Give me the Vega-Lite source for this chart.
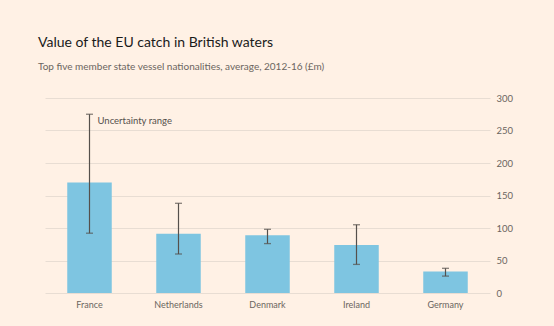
{
  "$schema": "https://vega.github.io/schema/vega-lite/v6.json",
  "autosize": {"type": "none"},
  "padding": {"left": 45, "top": 98, "right": 64, "bottom": 33},
  "width": 445,
  "height": 195,
  "background": "#FFF1E5",
  "title": {
    "text": "Value of the EU catch in British waters",
    "subtitle": "Top five member state vessel nationalities, average, 2012-16 (£m)",
    "anchor": "start",
    "frame": "group",
    "dx": -7,
    "offset": 21,
    "font": "Lato",
    "fontSize": 14,
    "fontWeight": "normal",
    "color": "#1a1a1a",
    "subtitleFont": "Lato",
    "subtitleFontSize": 10,
    "subtitleColor": "#6b6560",
    "subtitlePadding": 12
  },
  "data": {
    "values": [
      {"country": "France", "value": 170, "low": 92, "high": 275},
      {"country": "Netherlands", "value": 91, "low": 60, "high": 138},
      {"country": "Denmark", "value": 89, "low": 76, "high": 98},
      {"country": "Ireland", "value": 74, "low": 44, "high": 105},
      {"country": "Germany", "value": 33, "low": 26, "high": 38}
    ]
  },
  "encoding": {
    "x": {
      "field": "country",
      "type": "nominal",
      "sort": null,
      "scale": {"paddingInner": 0.5, "paddingOuter": 0.25},
      "axis": {
        "title": null,
        "labelAngle": 0,
        "ticks": false,
        "domain": false,
        "labelPadding": 7,
        "labelFont": "Lato",
        "labelFontSize": 9,
        "labelColor": "#6b6560"
      }
    }
  },
  "layer": [
    {
      "mark": {"type": "bar", "color": "#7EC5E1"},
      "encoding": {
        "y": {
          "field": "value",
          "type": "quantitative",
          "scale": {"domain": [0, 300], "nice": false},
          "axis": {"orient": "right", "title": null, "values": [0, 50, 100, 150, 200, 250, 300], "labelOverlap": false, "ticks": false, "domain": false, "grid": true, "gridColor": "#E8DDD3", "labelPadding": 6, "labelFont": "Lato", "labelFontSize": 9.5, "labelColor": "#6b6560"}
        }
      }
    },
    {
      "mark": {"type": "rule", "color": "#55504c", "strokeWidth": 1.2},
      "encoding": {
        "y": {
          "field": "low",
          "type": "quantitative",
          "axis": {"orient": "right", "title": null, "values": [0, 50, 100, 150, 200, 250, 300], "labelOverlap": false, "ticks": false, "domain": false, "grid": true, "gridColor": "#E8DDD3", "labelPadding": 6, "labelFont": "Lato", "labelFontSize": 9.5, "labelColor": "#6b6560"}
        },
        "y2": {"field": "high"}
      }
    },
    {
      "mark": {"type": "tick", "color": "#55504c", "thickness": 1.3, "size": 7},
      "encoding": {
        "y": {
          "field": "low",
          "type": "quantitative",
          "axis": {"orient": "right", "title": null, "values": [0, 50, 100, 150, 200, 250, 300], "labelOverlap": false, "ticks": false, "domain": false, "grid": true, "gridColor": "#E8DDD3", "labelPadding": 6, "labelFont": "Lato", "labelFontSize": 9.5, "labelColor": "#6b6560"}
        }
      }
    },
    {
      "mark": {"type": "tick", "color": "#55504c", "thickness": 1.3, "size": 7},
      "encoding": {
        "y": {
          "field": "high",
          "type": "quantitative",
          "axis": {"orient": "right", "title": null, "values": [0, 50, 100, 150, 200, 250, 300], "labelOverlap": false, "ticks": false, "domain": false, "grid": true, "gridColor": "#E8DDD3", "labelPadding": 6, "labelFont": "Lato", "labelFontSize": 9.5, "labelColor": "#6b6560"}
        }
      }
    },
    {
      "transform": [{"filter": "datum.country === 'France'"}],
      "mark": {
        "type": "text",
        "text": "Uncertainty range",
        "align": "left",
        "baseline": "middle",
        "dx": 8,
        "dy": 7,
        "font": "Lato",
        "fontSize": 9.5,
        "color": "#55504c"
      },
      "encoding": {
        "y": {
          "field": "high",
          "type": "quantitative",
          "axis": {"orient": "right", "title": null, "values": [0, 50, 100, 150, 200, 250, 300], "labelOverlap": false, "ticks": false, "domain": false, "grid": true, "gridColor": "#E8DDD3", "labelPadding": 6, "labelFont": "Lato", "labelFontSize": 9.5, "labelColor": "#6b6560"}
        }
      }
    }
  ],
  "config": {"view": {"stroke": null}}
}
